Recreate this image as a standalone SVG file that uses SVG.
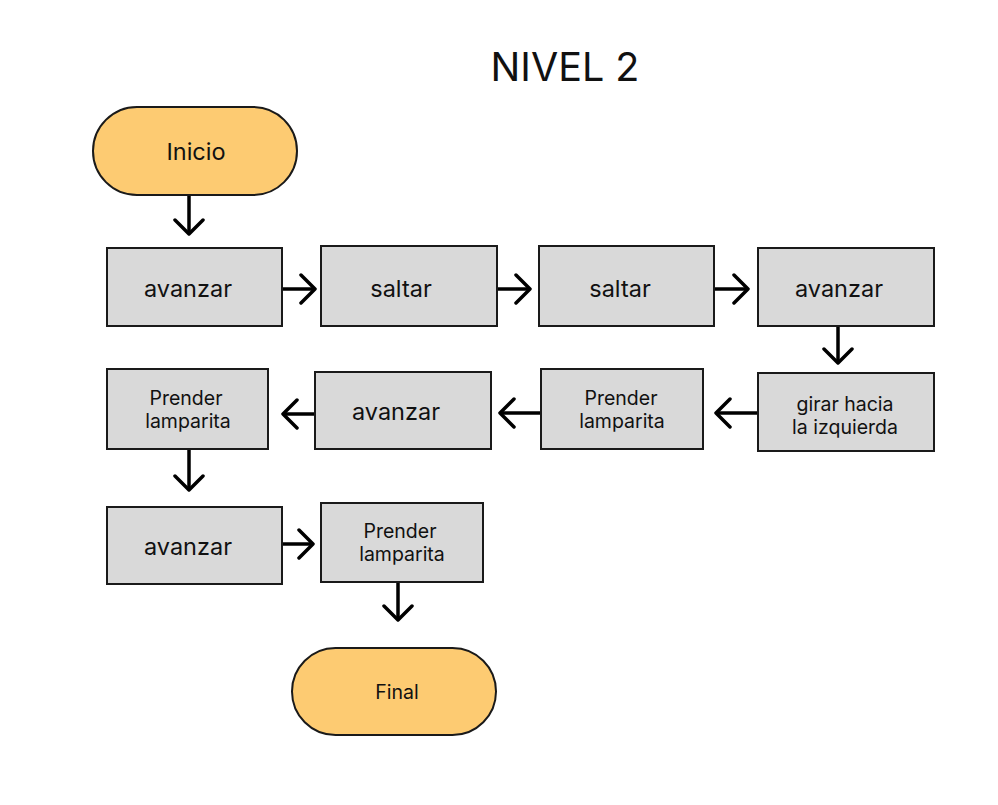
<svg xmlns="http://www.w3.org/2000/svg" width="998" height="805" viewBox="0 0 998 805">
<style>
.term{fill:#FDCB72;stroke:#1a1a1a;stroke-width:2}
.box{fill:#D9D9D9;stroke:#1a1a1a;stroke-width:2}
text{font-family:Inter,"Noto Sans","Liberation Sans",sans-serif;fill:#111;text-anchor:middle}
.l{font-size:23.5px}
.s{font-size:19.5px}
.c{stroke:#000;stroke-width:3.5;fill:none;marker-end:url(#ah)}
</style>
<defs>
<marker id="ah" viewBox="0 0 18 32" refX="16" refY="16" markerWidth="18" markerHeight="32" markerUnits="userSpaceOnUse" orient="auto">
<path d="M2,2 L16,16 L2,30" fill="none" stroke="#000" stroke-width="3.5" stroke-linecap="round" stroke-linejoin="round"/>
</marker>
</defs>
<rect width="998" height="805" fill="#fff"/>
<text x="565" y="81" style="font-size:39.5px">NIVEL 2</text>
<g id="connectors">
<path class="c" d="M189,195 V234"/>
<path class="c" d="M282,289 H315"/>
<path class="c" d="M497,289 H530"/>
<path class="c" d="M714,289 H748"/>
<path class="c" d="M838,326 V363"/>
<path class="c" d="M758,413 H716"/>
<path class="c" d="M541,413 H500"/>
<path class="c" d="M315,414 H283"/>
<path class="c" d="M189,449 V490"/>
<path class="c" d="M282,544 H313"/>
<path class="c" d="M398,582 V620"/>
</g>
<g id="inicio"><rect class="term" x="93" y="107" width="204" height="88" rx="44"/><text class="l" x="196" y="160">Inicio</text></g>
<g id="n1"><rect class="box" x="107" y="248" width="175" height="78"/><text class="l" x="188" y="297">avanzar</text></g>
<g id="n2"><rect class="box" x="321" y="246" width="176" height="80"/><text class="l" x="401" y="297">saltar</text></g>
<g id="n3"><rect class="box" x="539" y="246" width="175" height="80"/><text class="l" x="620" y="297">saltar</text></g>
<g id="n4"><rect class="box" x="758" y="248" width="176" height="78"/><text class="l" x="839" y="297">avanzar</text></g>
<g id="n5"><rect class="box" x="758" y="373" width="176" height="78"/><text class="s" x="845" y="411">girar hacia</text><text class="s" x="845" y="434">la izquierda</text></g>
<g id="n6"><rect class="box" x="541" y="369" width="162" height="80"/><text class="s" x="621" y="405">Prender</text><text class="s" x="622" y="428">lamparita</text></g>
<g id="n7"><rect class="box" x="315" y="372" width="176" height="77"/><text class="l" x="396" y="420">avanzar</text></g>
<g id="n8"><rect class="box" x="107" y="369" width="161" height="80"/><text class="s" x="186" y="405">Prender</text><text class="s" x="188" y="428">lamparita</text></g>
<g id="n9"><rect class="box" x="107" y="507" width="175" height="77"/><text class="l" x="188" y="555">avanzar</text></g>
<g id="n10"><rect class="box" x="321" y="503" width="162" height="79"/><text class="s" x="400" y="538">Prender</text><text class="s" x="402" y="561">lamparita</text></g>
<g id="final"><rect class="term" x="292" y="648" width="204" height="87" rx="43.5"/><text class="s" x="397" y="699">Final</text></g>
</svg>
